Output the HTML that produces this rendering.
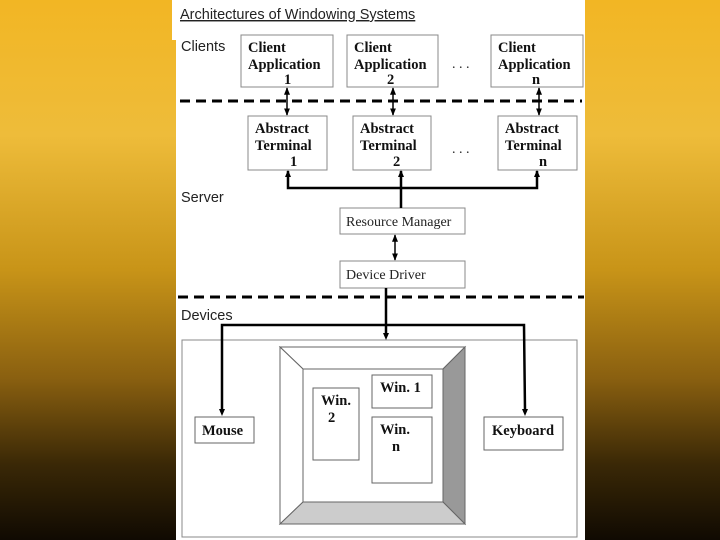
<!DOCTYPE html>
<html><head><meta charset="utf-8"><style>
html,body{margin:0;padding:0;width:720px;height:540px;overflow:hidden}
body{background:linear-gradient(180deg,#f2b624 0%,#eebc3a 25%,#c89418 50%,#8a6010 70%,#3a2806 86%,#100a02 100%)}
svg{position:absolute;left:0;top:0}
.t{font-family:"Liberation Serif",serif;font-weight:bold;font-size:14.5px;fill:#111}
.r{font-family:"Liberation Serif",serif;font-size:14px;fill:#222}
.s{font-family:"Liberation Sans",sans-serif;font-size:14.5px;fill:#222}
</style></head><body>
<svg width="720" height="540" viewBox="0 0 720 540">
<defs>
<marker id="a" viewBox="0 0 10 10" refX="9" refY="5" markerWidth="5" markerHeight="5" orient="auto-start-reverse"><path d="M0,1 L10,5 L0,9 z" fill="#000"/></marker>
</defs>
<rect x="172" y="0" width="6" height="40" fill="#fff"/>
<rect x="176" y="0" width="409" height="540" fill="#fff"/>
<text x="180" y="19" class="s" text-decoration="underline">Architectures of Windowing Systems</text>
<text x="181" y="51" class="s">Clients</text>
<text x="181" y="202" class="s">Server</text>
<text x="181" y="320" class="s">Devices</text>
<g fill="#fff" stroke="#888" stroke-width="1">
<rect x="241" y="35" width="92" height="52"/>
<rect x="347" y="35" width="91" height="52"/>
<rect x="491" y="35" width="92" height="52"/>
<rect x="248" y="116" width="79" height="54"/>
<rect x="353" y="116" width="78" height="54"/>
<rect x="498" y="116" width="79" height="54"/>
<rect x="340" y="208" width="125" height="26"/>
<rect x="340" y="261" width="125" height="27"/>
<rect x="182" y="340" width="395" height="197"/>
</g>
<text x="248" y="52" class="t">Client</text><text x="248" y="69" class="t">Application</text><text x="284" y="84" class="t" font-size="11">1</text>
<text x="354" y="52" class="t">Client</text><text x="354" y="69" class="t">Application</text><text x="387" y="84" class="t" font-size="11">2</text>
<text x="498" y="52" class="t">Client</text><text x="498" y="69" class="t">Application</text><text x="532" y="84" class="t" font-size="11">n</text>
<text x="255" y="133" class="t">Abstract</text><text x="255" y="150" class="t">Terminal</text><text x="290" y="166" class="t" font-size="11">1</text>
<text x="360" y="133" class="t">Abstract</text><text x="360" y="150" class="t">Terminal</text><text x="393" y="166" class="t" font-size="11">2</text>
<text x="505" y="133" class="t">Abstract</text><text x="505" y="150" class="t">Terminal</text><text x="539" y="166" class="t" font-size="11">n</text>
<text x="452" y="68" class="r" font-size="11">. . .</text>
<text x="452" y="153" class="r" font-size="11">. . .</text>
<text x="346" y="226" class="r">Resource Manager</text>
<text x="346" y="279" class="r">Device Driver</text>
<g stroke="#000" stroke-width="3" stroke-dasharray="10,6">
<line x1="180" y1="101" x2="582" y2="101"/>
<line x1="178" y1="297" x2="584" y2="297"/>
</g>
<g stroke="#000" stroke-width="1.5" fill="none">
<line x1="287" y1="88" x2="287" y2="115" marker-start="url(#a)" marker-end="url(#a)"/>
<line x1="393" y1="88" x2="393" y2="115" marker-start="url(#a)" marker-end="url(#a)"/>
<line x1="539" y1="88" x2="539" y2="115" marker-start="url(#a)" marker-end="url(#a)"/>
<line x1="395" y1="235" x2="395" y2="260" marker-start="url(#a)" marker-end="url(#a)"/>
</g>
<g stroke="#000" stroke-width="2.5" fill="none">
<polyline points="288,171 288,188 537,188 537,171"/>
<line x1="401" y1="171" x2="401" y2="208"/>
<line x1="386" y1="288" x2="386" y2="336"/>
<polyline points="222,410 222,325 524,325 525,410"/>
</g>
<g fill="#000">
<path d="M288,170 l-3,7 h6z"/><path d="M537,170 l-3,7 h6z"/><path d="M401,170 l-3,7 h6z"/>
<path d="M386,340 l-3,-7 h6z"/><path d="M222,416 l-3,-7 h6z"/><path d="M525,416 l-3,-7 h6z"/>
</g>
<g stroke="#666" stroke-width="1">
<polygon points="280,347 465,347 443,369 303,369" fill="#fff"/>
<polygon points="280,347 303,369 303,502 280,524" fill="#fff"/>
<polygon points="465,347 465,524 443,502 443,369" fill="#999"/>
<polygon points="280,524 303,502 443,502 465,524" fill="#ccc"/>
<rect x="303" y="369" width="140" height="133" fill="#fff"/>
<rect x="313" y="388" width="46" height="72" fill="#fff"/>
<rect x="372" y="375" width="60" height="33" fill="#fff"/>
<rect x="372" y="417" width="60" height="66" fill="#fff"/>
<rect x="195" y="417" width="59" height="26" fill="#fff"/>
<rect x="484" y="417" width="79" height="33" fill="#fff"/>
</g>
<text x="321" y="405" class="t">Win.</text><text x="328" y="422" class="t">2</text>
<text x="380" y="392" class="t">Win. 1</text>
<text x="380" y="434" class="t">Win.</text><text x="392" y="451" class="t">n</text>
<text x="202" y="435" class="t">Mouse</text>
<text x="492" y="435" class="t">Keyboard</text>
</svg>
</body></html>
